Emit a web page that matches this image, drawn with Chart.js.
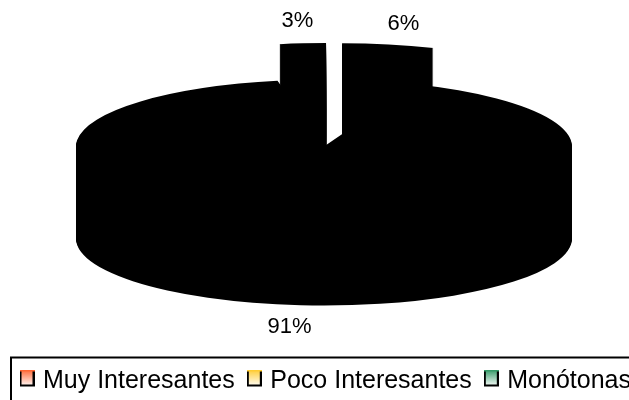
<!DOCTYPE html>
<html>
<head>
<meta charset="utf-8">
<style>
  html, body { margin: 0; padding: 0; background: #fff; overflow: hidden; }
</style>
<script src="https://cdn.jsdelivr.net/npm/chart.js@4"></script>
</head>
<body>
<canvas id="myChart" width="660" height="400"></canvas>
<script>
const categories = ["Muy Interesantes", "Poco Interesantes", "Monótonas"];
const seriesValues = [6, 91, 3];
const valueLabels = ["6%", "91%", "3%"];
const edgeColors = ["#ff6633", "#ffcc33", "#339966"];

// pie geometry, the 3d look is a squashed pie drawn several times
const pieX = 331.4, pieY = 125.3, pieRadius = 248, squash = 0.27, depth = 92;
const explode = [57, 79, 57];

function marker(color) {
    const c = document.createElement("canvas");
    c.width = 15;
    c.height = 24; // bottom stays empty, lifts the box up to the text
    const g = c.getContext("2d");
    const grad = g.createLinearGradient(0, 0, 0, 17);
    grad.addColorStop(0, color);
    grad.addColorStop(1, "#ffffff");
    g.fillStyle = grad;
    g.fillRect(0, 0, 15, 17);
    g.strokeStyle = "#000";
    g.lineWidth = 2;
    g.strokeRect(1, 1, 13, 15);
    g.fillStyle = color;
    g.fillRect(0, 0, 15, 2);
    return c;
}

const squashedPie = {
    id: "squashedPie",
    afterLayout(chart) {
        chart.legend.top += 4;
        chart.legend.bottom += 4;
    },
    beforeDatasetDraw(chart) {
        const ctx = chart.ctx;
        const arcs = chart.getDatasetMeta(0).data;
        ctx.save();
        ctx.translate(pieX, pieY);
        ctx.scale(1, squash);
        ctx.translate(-arcs[0].x, -arcs[0].y);
        for (let d = depth; d >= 0; d--) {
            arcs.forEach((a, i) => {
                const mid = (a.startAngle + a.endAngle) / 2;
                ctx.save();
                ctx.translate(Math.cos(mid) * explode[i], Math.sin(mid) * explode[i] + d / squash);
                a.draw(ctx);
                ctx.restore();
            });
        }
        ctx.restore();
        return false;
    },
    afterDraw(chart) {
        const ctx = chart.ctx;
        ctx.save();
        ctx.strokeStyle = "#000";
        ctx.lineWidth = 2;
        ctx.beginPath();
        ctx.moveTo(629, 357.5);
        ctx.lineTo(11, 357.5);
        ctx.lineTo(11, 400);
        ctx.stroke();
        ctx.fillStyle = "#000";
        ctx.font = "22px 'Liberation Sans'";
        ctx.textAlign = "center";
        ctx.textBaseline = "middle";
        ctx.fillText(valueLabels[2], 297.5, 20.5);
        ctx.fillText(valueLabels[0], 403.5, 23.5);
        ctx.fillText(valueLabels[1], 289.5, 326.5);
        ctx.restore();
    },
};

const chart = new Chart(document.getElementById("myChart").getContext("2d"), {
    type: "pie",
    data: {
        labels: categories,
        datasets: [
            {
                data: seriesValues,
                backgroundColor: "#000",
                borderColor: "#000",
                borderWidth: 0,
                clip: false,
            },
        ],
    },
    options: {
        responsive: false,
        animation: false,
        radius: pieRadius,
        layout: { padding: { left: 7.5 } },
        plugins: {
            tooltip: { enabled: false },
            legend: {
                position: "bottom",
                align: "start",
                labels: {
                    usePointStyle: true,
                    pointStyleWidth: 7,
                    padding: 16,
                    color: "#000",
                    font: { family: "Liberation Sans", size: 25 },
                    generateLabels() {
                        return categories.map((name, i) => ({
                            text: name,
                            pointStyle: marker(edgeColors[i]),
                            fillStyle: "#000",
                            lineWidth: 0,
                            index: i,
                        }));
                    },
                },
            },
        },
    },
    plugins: [squashedPie],
});
</script>
</body>
</html>
